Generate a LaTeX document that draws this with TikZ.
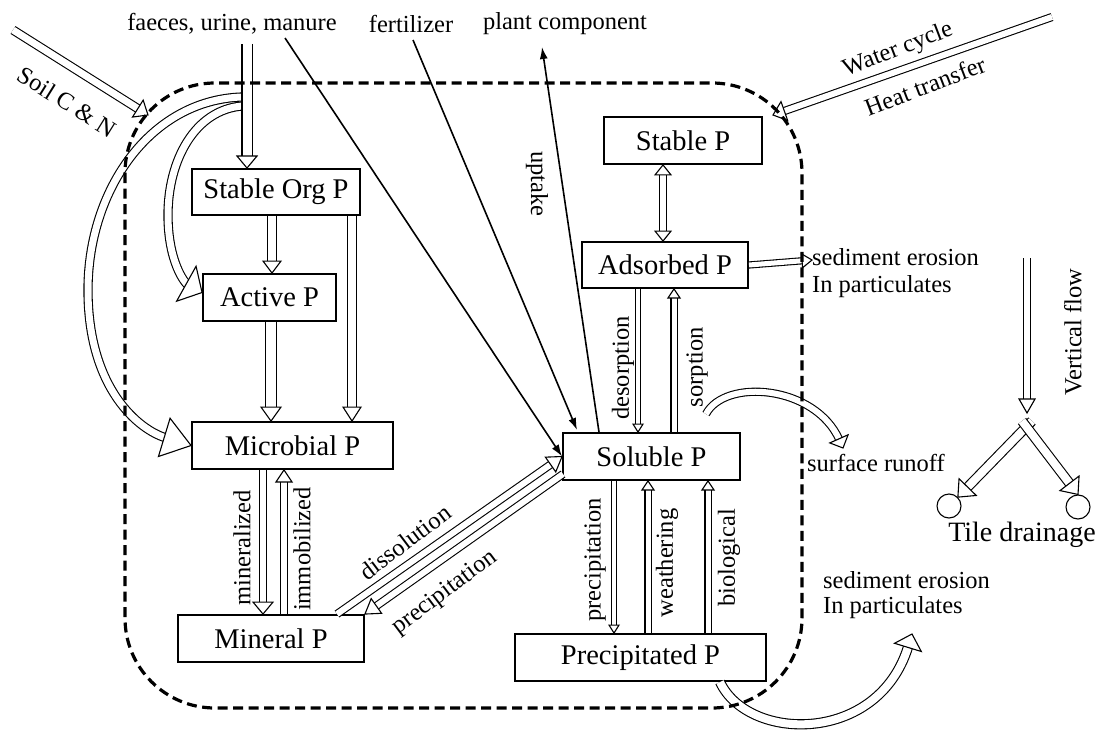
\documentclass[tikz,border=0pt]{standalone}
\usepackage{fontspec}
\setmainfont{Liberation Serif}
\usetikzlibrary{calc,arrows.meta}
\tikzset{
 box/.style={draw, line width=1.9pt, minimum height=46pt, inner sep=0pt, font=\fontsize{28.5}{32}\selectfont},
 lbl/.style={inner sep=0pt, font=\fontsize{24.5}{28}\selectfont},
 dbl/.style={draw=black, double=white, line width=1.1pt},
 headsty/.style={draw=black, fill=white, line width=1.1pt, line join=miter},
 thinarrow/.style={line width=1.6pt, -{Latex[length=12pt,width=8pt]}},
 boundary/.style={line width=3.2pt, dash pattern=on 10pt off 5.5pt, rounded corners=90pt}
}
\newcommand\openhead[4]{\path[headsty] (#1) -- ($(#1)!#3!(#2)!#4!90:(#1)$) -- ($(#1)!#3!(#2)!#4!-90:(#1)$) -- cycle;}
\newcommand\darrow[5]{\draw[dbl, double distance=#5, shorten >=#3-1pt] (#1) -- (#2);\openhead{#2}{#1}{#3}{#4}}
\begin{document}
\begin{tikzpicture}[x=1pt,y=-1pt]
\useasboundingbox (0,0) rectangle (1099,730);
% boxes
\node[box, minimum width=168pt] (sorg) at (276,192) {Stable Org P};
\node[box, minimum width=133pt, minimum height=47pt] (active) at (269.5,297.5) {Active P};
\node[box, minimum width=201pt, minimum height=47pt] (micro) at (292.5,445.5) {Microbial P};
\node[box, minimum width=186pt, minimum height=47pt] (mineral) at (271,638.5) {Mineral P};
\node[box, minimum width=177pt, minimum height=47pt] (soluble) at (651.5,456.5) {Soluble P};
\node[box, minimum width=166pt] (adsorbed) at (665,265) {Adsorbed P};
\node[box, minimum width=158pt, minimum height=47pt] (stablep) at (683,140.5) {Stable P};
\node[box, minimum width=251pt, minimum height=47pt] (precip) at (640.5,657.5) {Precipitated P};
% labels
\node[lbl] (faeces) at (232,24) {faeces, urine, manure};
\node[lbl] (fert) at (411,24) {fertilizer};
\node[lbl] (plant) at (565,24) {plant component};
\node[lbl, rotate=-32] (soil) at (67,102) {Soil C \& N};
\node[lbl, rotate=21] (water) at (898,50) {Water cycle};
\node[lbl, rotate=21] (heat) at (925,86) {Heat transfer};
\node[lbl, rotate=-90] (uptake) at (537,184) {uptake};
\node[lbl, rotate=90] (desorp) at (623,368) {desorption};
\node[lbl, rotate=90] (sorp) at (697,367) {sorption};
\node[lbl, rotate=90] (minz) at (242,548) {mineralized};
\node[lbl, rotate=90] (immo) at (302,549) {immobilized};
\node[lbl, rotate=37] (dissol) at (405,542) {dissolution};
\node[lbl, rotate=37] (precdiag) at (445,593) {precipitation};
\node[lbl, rotate=90] (precv) at (595,560) {precipitation};
\node[lbl, rotate=90] (weath) at (667,563) {weathering};
\node[lbl, rotate=90] (biol) at (729,558) {biological};
\node[lbl, anchor=west] (sed1) at (812,257) {sediment erosion};
\node[lbl, anchor=west] (part1) at (812,287) {In particulates};
\node[lbl] (runoff) at (876,463) {surface runoff};
\node[lbl, rotate=90] (vflow) at (1073,332) {Vertical flow};
\node[inner sep=0pt, font=\fontsize{28}{32}\selectfont] (tile) at (1022,535) {Tile drainage};
\node[lbl, anchor=west] (sed2) at (823,580) {sediment erosion};
\node[lbl, anchor=west] (part2) at (823,608) {In particulates};
% coordinates
\coordinate (faecesIn) at (247,44);
\coordinate (soilIn) at (13,30);
\coordinate (soilTip) at (148,115);
\coordinate (waterIn) at (1052,17);
\coordinate (waterTip) at (773,115);
\coordinate (c1s) at (242,97);
\coordinate (c2s) at (242,106);
\coordinate (c2t) at ([yshift=5pt]active.west);
\coordinate (runS) at (706,414);
\coordinate (runT) at (843,448);
\coordinate (sedS) at (720,682);
\coordinate (sedT) at (912,634);
\coordinate (adsOut) at (812,260);
\coordinate (vfS) at (1027,258);
\coordinate (vfT) at (1027,413);
\coordinate (yl) at (1032,421);
\coordinate (yr) at (1022,421);
\node[draw, circle, line width=1.1pt, minimum size=24pt, inner sep=0pt] (tileL) at (949,506) {};
\node[draw, circle, line width=1.1pt, minimum size=24pt, inner sep=0pt] (tileR) at (1078,507) {};
% curved arrows from faeces
\draw[dbl, double distance=7pt, shorten >=27pt] (c1s) .. controls (150,100) and (88,190) .. (88,290) .. controls (88,390) and (140,430) .. (micro.west);
\openhead{micro.west}{140,430}{28pt}{20pt}
\draw[dbl, double distance=7pt, shorten >=17pt] (c2s) .. controls (195,110) and (168,160) .. (168,215) .. controls (168,262) and (185,283) .. (c2t);
\openhead{c2t}{185,283}{18pt}{20pt}
% straight open arrows
\darrow{faecesIn}{247,0 |- sorg.north}{12pt}{10pt}{9pt}
\darrow{soilIn}{soilTip}{12pt}{10pt}{7pt}
\darrow{waterIn}{waterTip}{12pt}{10pt}{6pt}
\darrow{272,0 |- sorg.south}{272,0 |- active.north}{12pt}{9pt}{8pt}
\darrow{271,0 |- active.south}{271,0 |- micro.north}{14pt}{10pt}{10pt}
\darrow{352,0 |- sorg.south}{352,0 |- micro.north}{14pt}{9pt}{8pt}
\darrow{263,0 |- micro.south}{263,0 |- mineral.north}{12pt}{10pt}{6pt}
\darrow{284,0 |- mineral.north}{284,0 |- micro.south}{12pt}{8pt}{6pt}
\darrow{337,0 |- mineral.north}{soluble.west}{14pt}{9pt}{6pt}
\darrow{563,474}{mineral.north east}{14pt}{9pt}{6pt}
\darrow{614,0 |- soluble.south}{614,0 |- precip.north}{8pt}{5pt}{4pt}
\darrow{648,0 |- precip.north}{648,0 |- soluble.south}{9pt}{6pt}{5pt}
\darrow{708,0 |- precip.north}{708,0 |- soluble.south}{9pt}{6pt}{5pt}
\darrow{638,0 |- adsorbed.south}{638,0 |- soluble.north}{8pt}{5pt}{4pt}
\darrow{674,0 |- soluble.north}{674,0 |- adsorbed.south}{9pt}{6pt}{5pt}
\darrow{adsorbed.east}{adsOut}{10pt}{7pt}{5pt}
\draw[dbl, double distance=6pt, shorten >=9pt, shorten <=9pt] (663,0 |- stablep.south) -- (663,0 |- adsorbed.north);
\openhead{663,0 |- stablep.south}{663,0 |- adsorbed.north}{10pt}{8pt}
\openhead{663,0 |- adsorbed.north}{663,0 |- stablep.south}{10pt}{8pt}
\darrow{vfS}{vfT}{14pt}{8pt}{6pt}
\darrow{yl}{tileL.north east}{14pt}{12pt}{8pt}
\darrow{yr}{tileR.north}{14pt}{12pt}{8pt}
% curved outflows
\draw[dbl, double distance=6pt, shorten >=9pt] (runS) .. controls (725,378) and (815,385) .. (runT);
\openhead{runT}{815,385}{10pt}{10pt}
\draw[dbl, double distance=8pt, shorten >=13pt] (sedS) .. controls (748,742) and (878,745) .. (sedT);
\openhead{sedT}{878,745}{14pt}{14pt}
% thin arrows
\coordinate (faecesLine) at (285,38);
\coordinate (fertLine) at (413,40);
\coordinate (fertTip) at (577,430);
\coordinate (plantTip) at (542,47);
\draw[thinarrow] (faecesLine) -- (soluble.west);
\draw[thinarrow] (fertLine) -- (fertTip);
\draw[thinarrow] (599,0 |- soluble.north) -- (plantTip);
% boundary
\draw[boundary] (125,83) rectangle (802,708);
\end{tikzpicture}
\end{document}
